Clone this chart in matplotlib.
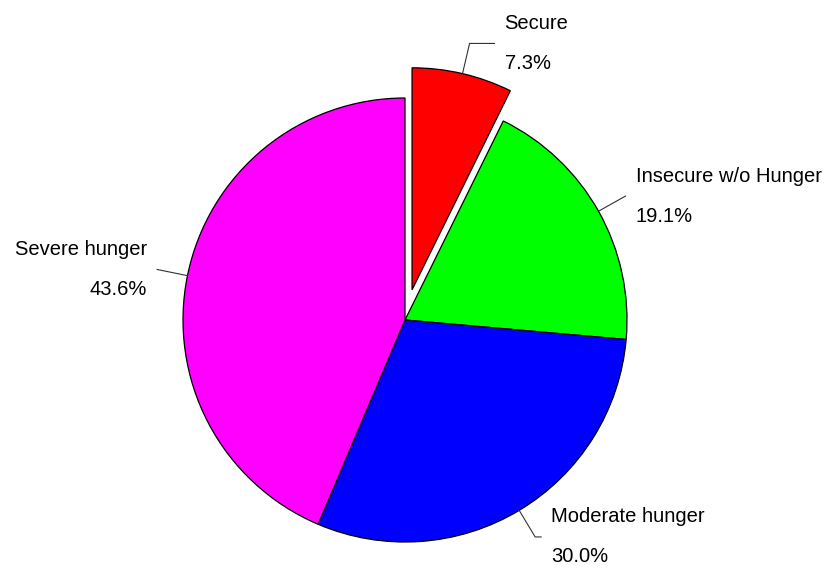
import numpy as np
import matplotlib.pyplot as plt

plt.rcParams["font.family"] = ["Liberation Sans", "DejaVu Sans"]

# dados do grafico
categorias = ["Secure", "Insecure w/o Hunger", "Moderate hunger", "Severe hunger"]
percentuais = [7.3, 19.1, 30.0, 43.6]
cores = ["#FF0000", "#00FF00", "#0000FF", "#FF00FF"]

# layout (pixels)
centro = (405, 250)
raio = 222
explodir = [31, 0, 0, 0]  # no pie o deslocamento e absoluto
extensao = [25, 0, 6, 0]  # trecho horizontal da linha guia

fig = plt.figure(figsize=(8.27, 5.70), dpi=100)
ax = fig.add_axes([0, 0, 1, 1])

wedges, _ = ax.pie(percentuais, colors=cores, explode=explodir, startangle=90,
                   counterclock=False, center=centro, radius=raio,
                   wedgeprops={"edgecolor": "black", "linewidth": 0.9})

# limites depois do pie (o pie redefine os limites)
ax.set_xlim(0, 827)
ax.set_ylim(0, 570)
ax.set_aspect("equal")
ax.axis("off")

for w, nome, pct, ext in zip(wedges, categorias, percentuais, extensao):
    ang = np.deg2rad((w.theta1 + w.theta2) / 2)
    cx, cy = w.center
    x0, y0 = cx + raio * np.cos(ang), cy + raio * np.sin(ang)
    x1, y1 = cx + (raio + 31) * np.cos(ang), cy + (raio + 31) * np.sin(ang)
    lado = 1 if np.cos(ang) >= 0 else -1
    x2 = x1 + lado * ext
    ax.plot([x0, x1, x2], [y0, y1, y1], color="#333333", lw=0.8)
    ha = "left" if lado > 0 else "right"
    xt = x2 + lado * 10
    ax.text(xt, y1 + 20, nome, ha=ha, va="center", fontsize=14.5)
    ax.text(xt, y1 - 20, f"{pct:.1f}%", ha=ha, va="center", fontsize=14.5)

plt.savefig("out.png", dpi=100)
